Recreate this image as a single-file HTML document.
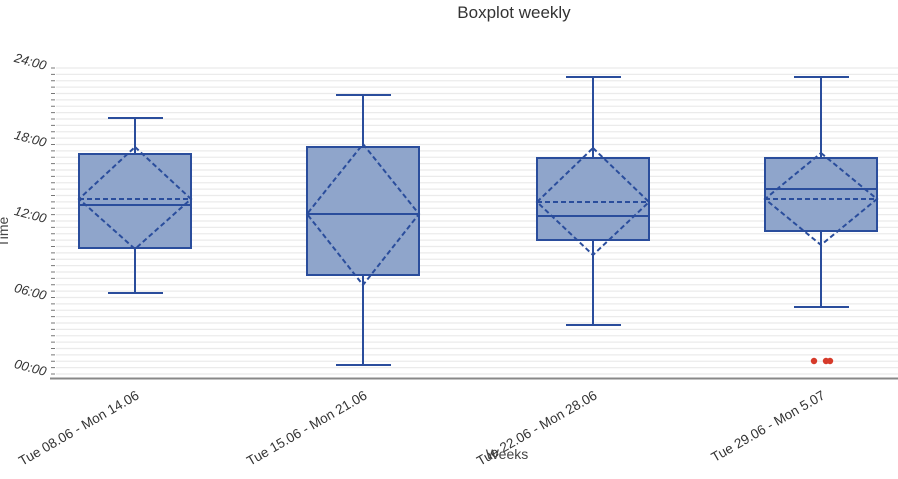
<!DOCTYPE html>
<html><head><meta charset="utf-8"><style>
html,body{margin:0;padding:0;background:#fff;}
svg{display:block;font-family:"Liberation Sans","DejaVu Sans",sans-serif;}
</style></head><body>
<svg width="898" height="479" viewBox="0 0 898 479" xmlns="http://www.w3.org/2000/svg">
<text x="514" y="18" font-size="17" fill="#333" text-anchor="middle">Boxplot weekly</text>
<g id="grid" stroke="#ebebeb" stroke-width="1.2"></g>
<g id="ticks" stroke="#777" stroke-width="1"></g>
<line x1="50" y1="378.5" x2="898" y2="378.5" stroke="#888" stroke-width="2"/>
<g font-size="13" fill="#333" font-style="italic" text-anchor="end">
<text transform="translate(45,70) rotate(15)">24:00</text>
<text transform="translate(45,147) rotate(15)">18:00</text>
<text transform="translate(45,223) rotate(15)">12:00</text>
<text transform="translate(45,300) rotate(15)">06:00</text>
<text transform="translate(45,376) rotate(15)">00:00</text>
</g>
<text transform="translate(8,232) rotate(-90)" font-size="14" fill="#444" text-anchor="middle">Time</text>
<g font-size="13.5" fill="#333" text-anchor="end">
<text transform="translate(140,398) rotate(-30)">Tue 08.06 - Mon 14.06</text>
<text transform="translate(368,398) rotate(-30)">Tue 15.06 - Mon 21.06</text>
<text transform="translate(598,398) rotate(-30)">Tue 22.06 - Mon 28.06</text>
<text transform="translate(826,398) rotate(-30)">Tue 29.06 - Mon 5.07</text>
</g>
<text x="507" y="459" font-size="14" fill="#444" text-anchor="middle">Weeks</text>
<g stroke="#2a4d9c" stroke-width="2" fill="none">
<line x1="135" y1="118" x2="135" y2="154"/><line x1="135" y1="248" x2="135" y2="293"/>
<line x1="108" y1="118" x2="163" y2="118"/><line x1="108" y1="293" x2="163" y2="293"/>
<rect x="79" y="154" width="112" height="94" fill="#8fa5cb"/>
<line x1="79" y1="205" x2="191" y2="205"/>
<g stroke-dasharray="5,3"><line x1="79" y1="199" x2="191" y2="199"/><polygon points="135,147 191,199 135,249 79,199"/></g>
<line x1="363" y1="95" x2="363" y2="147"/><line x1="363" y1="275" x2="363" y2="365"/>
<line x1="336" y1="95" x2="391" y2="95"/><line x1="336" y1="365" x2="391" y2="365"/>
<rect x="307" y="147" width="112" height="128" fill="#8fa5cb"/>
<line x1="307" y1="214" x2="419" y2="214"/>
<g stroke-dasharray="5,3"><polygon points="363,144 419,214 363,285 307,214"/></g>
<line x1="593" y1="77" x2="593" y2="158"/><line x1="593" y1="240" x2="593" y2="325"/>
<line x1="566" y1="77" x2="621" y2="77"/><line x1="566" y1="325" x2="621" y2="325"/>
<rect x="537" y="158" width="112" height="82" fill="#8fa5cb"/>
<line x1="537" y1="216" x2="649" y2="216"/>
<g stroke-dasharray="5,3"><line x1="537" y1="202" x2="649" y2="202"/><polygon points="593,148 649,202 593,255 537,202"/></g>
<line x1="821" y1="77" x2="821" y2="158"/><line x1="821" y1="231" x2="821" y2="307"/>
<line x1="794" y1="77" x2="849" y2="77"/><line x1="794" y1="307" x2="849" y2="307"/>
<rect x="765" y="158" width="112" height="73" fill="#8fa5cb"/>
<line x1="765" y1="189" x2="877" y2="189"/>
<g stroke-dasharray="5,3"><line x1="765" y1="199" x2="877" y2="199"/><polygon points="821,153 877,199 821,245 765,199"/></g>
</g>
<g fill="#d63a2a"><circle cx="814" cy="361" r="3.2"/><circle cx="826" cy="361" r="3.2"/><circle cx="830" cy="361" r="3.2"/></g>
<script>
var g=document.getElementById('grid'),t=document.getElementById('ticks'),ns='http://www.w3.org/2000/svg';
for(var h=0;h<=48;h++){var y=374-h*6.375;
var l=document.createElementNS(ns,'line');l.setAttribute('x1',56);l.setAttribute('x2',898);l.setAttribute('y1',y);l.setAttribute('y2',y);g.appendChild(l);
var k=document.createElementNS(ns,'line');k.setAttribute('x1',51);k.setAttribute('x2',55);k.setAttribute('y1',y);k.setAttribute('y2',y);t.appendChild(k);}
</script>
</svg>
</body></html>
